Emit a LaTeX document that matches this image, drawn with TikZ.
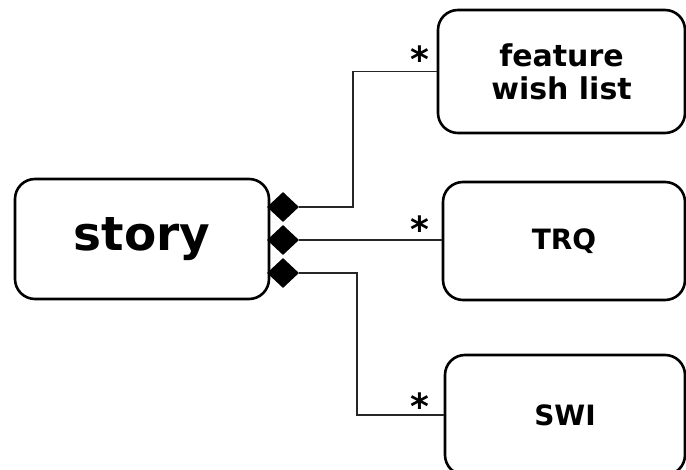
\documentclass[tikz,border=0pt]{standalone}
\usepackage{fontspec}
\setmainfont{DejaVu Sans}
\usetikzlibrary{shapes.geometric}
\begin{document}
\begin{tikzpicture}[x=1pt,y=-1pt,
  box/.style={draw=black,line width=2.6pt,rounded corners=20pt,inner sep=0pt,align=center,font=\bfseries},
  agg/.style={diamond,fill=black,draw=none,minimum width=32pt,minimum height=30pt,inner sep=0pt},
  conn/.style={draw=black!85,line width=1.6pt},
  mult/.style={font=\bfseries\fontsize{36}{36}\selectfont,inner sep=0pt,anchor=base}
]
\useasboundingbox (0,0) rectangle (686,470);
\clip (0,0) rectangle (686,470);
\node[box,minimum width=254pt,minimum height=120pt,font=\bfseries\fontsize{47}{47}\selectfont] (story) at (142,239) {story};
\node[box,minimum width=247pt,minimum height=123pt,font=\bfseries\fontsize{30}{33}\selectfont] (feat) at (561.5,71.5) {feature\\wish list};
\node[box,minimum width=242pt,minimum height=118pt,font=\bfseries\fontsize{28}{28}\selectfont] (trq) at (564,241) {TRQ};
\node[box,minimum width=240pt,minimum height=120pt,font=\bfseries\fontsize{28}{28}\selectfont] (swi) at (565,415) {SWI};
\node[agg] (d1) at (283,207) {};
\node[agg] (d2) at (283,240) {};
\node[agg] (d3) at (283,273) {};
\draw[conn] (d1.east) -- ++(54,0) |- (feat.west);
\draw[conn] (d2.east) -- (d2.east -| trq.west);
\draw[conn] (d3.east) -- ++(58,0) |- (swi.west);
\node[mult] (m1) at (420,73) {*};
\node[mult] (m2) at (420,243) {*};
\node[mult] (m3) at (420,420) {*};
\end{tikzpicture}
\end{document}
